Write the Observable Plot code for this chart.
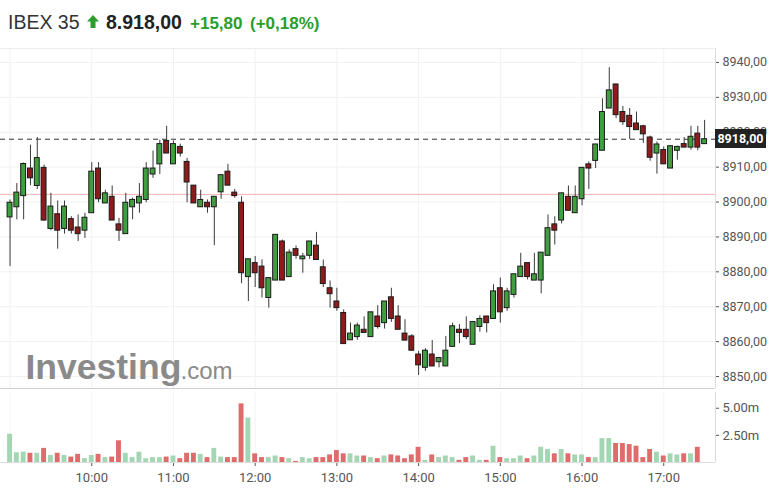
<!DOCTYPE html>
<html><head><meta charset="utf-8">
<script src="https://cdn.jsdelivr.net/npm/d3@7"></script>
<script src="https://cdn.jsdelivr.net/npm/@observablehq/plot@0.6"></script>
<style>
body{margin:0;background:#fff;width:781px;height:504px;overflow:hidden;position:relative;}
#hdr{position:relative;height:45px;font-family:"Liberation Sans",Arial,sans-serif;}
#hdr span{position:absolute;line-height:1;white-space:nowrap;}
#price,#vol{display:block;}
#lastLbl{position:absolute;left:715px;width:51px;height:19px;background:#222;color:#fff;font:bold 12.5px Roboto,sans-serif;line-height:19px;text-align:center;}
</style></head>
<body>
<div id="hdr">
  <span style="left:8px;top:12.5px;font-size:19.5px;color:#333;">IBEX 35</span>
  <svg style="position:absolute;left:87px;top:15px" width="12" height="13"><path d="M6 0 L12 6.5 H8.5 V13 H3.5 V6.5 H0 Z" fill="#2a9d2a"/></svg>
  <span id="hPrice" style="left:106px;top:12.5px;font-size:19.5px;font-weight:bold;color:#222;"></span>
  <span id="hChg" style="left:190px;top:14.6px;font-size:17px;font-weight:bold;color:#2a9d2a;"></span>
  <span id="hPct" style="left:250px;top:14.6px;font-size:17px;font-weight:bold;color:#2a9d2a;"></span>
</div>
<div id="price"></div>
<div id="vol"></div>
<div id="lastLbl"></div>
<script>
const indexName = "IBEX 35";
const lastClose = 8918.00;
const change = 15.80;
const changePct = 0.18;
const prevClose = 8902.2;

const times = [
"09:00","09:05","09:10","09:15","09:20","09:25","09:30","09:35","09:40","09:45","09:50","09:55",
"10:00","10:05","10:10","10:15","10:20","10:25","10:30","10:35","10:40","10:45","10:50","10:55",
"11:00","11:05","11:10","11:15","11:20","11:25","11:30","11:35","11:40","11:45","11:50","11:55",
"12:00","12:05","12:10","12:15","12:20","12:25","12:30","12:35","12:40","12:45","12:50","12:55",
"13:00","13:05","13:10","13:15","13:20","13:25","13:30","13:35","13:40","13:45","13:50","13:55",
"14:00","14:05","14:10","14:15","14:20","14:25","14:30","14:35","14:40","14:45","14:50","14:55",
"15:00","15:05","15:10","15:15","15:20","15:25","15:30","15:35","15:40","15:45","15:50","15:55",
"16:00","16:05","16:10","16:15","16:20","16:25","16:30","16:35","16:40","16:45","16:50","16:55",
"17:00","17:05","17:10","17:15","17:20","17:25","17:30"];

const open = [
8895.6,8898.5,8901.7,8909.6,8904.6,8909.8,8892.3,8896.5,8892.3,8895.1,8892.7,8891.8,
8896.8,8909.6,8899.6,8901.5,8893.6,8890.8,8898.5,8899.6,8900.6,8907.9,8910.8,8917.5,
8910.8,8915.8,8911.5,8904.7,8898.5,8899.8,8898.5,8902.8,8908.7,8902.7,8899.8,8878.5,
8882.5,8881.5,8872.5,8877.5,8888.7,8878.5,8886.5,8883.6,8884.6,8887.5,8881.3,8875.3,
8871.5,8868.2,8860.4,8861.3,8863.4,8861.3,8867.2,8865.3,8872.7,8867.2,8862.3,8861.5,
8856.3,8852.5,8856.3,8854.1,8852.9,8858.5,8863.4,8863.4,8859.1,8864.2,8867.2,8866.5,
8875.3,8869.6,8873.4,8878.5,8882.5,8877.5,8877.5,8884.6,8893.6,8894.7,8901.5,8896.8,
8900.8,8910.8,8911.8,8914.7,8926.8,8933.7,8925.8,8924.7,8922.5,8921.7,8918.5,8913.9,
8914.9,8909.6,8914.7,8916.6,8915.6,8919.6,8916.6];
const high = [
8900.6,8905.3,8911.2,8916.3,8918.5,8910.6,8902.5,8900.3,8900.3,8895.8,8896.3,8896.8,
8911.3,8911.3,8903.4,8904.6,8895.3,8902.5,8901.1,8905.3,8911.3,8914.6,8917.7,8921.7,
8917.5,8916.6,8912.5,8904.7,8903.4,8900.6,8901.5,8907.7,8910.8,8903.6,8901.5,8883.6,
8884.4,8883.4,8878.2,8890.6,8889.1,8886.3,8887.4,8885.3,8888.7,8891.3,8883.4,8877.4,
8875.3,8869.1,8865.3,8865.3,8867.1,8868.4,8870.3,8871.5,8875.3,8870.3,8866.3,8862.0,
8857.2,8858.0,8860.3,8855.3,8861.5,8865.3,8864.9,8867.1,8865.6,8867.4,8867.2,8876.3,
8878.2,8875.3,8879.3,8885.3,8882.5,8885.3,8885.5,8896.3,8895.8,8902.5,8904.6,8904.6,
8909.8,8911.5,8916.5,8929.6,8938.5,8933.7,8927.4,8926.8,8925.8,8922.0,8918.9,8917.2,
8915.8,8916.0,8916.0,8918.5,8921.7,8921.7,8923.4];
const low = [
8881.5,8894.9,8894.9,8904.7,8903.6,8894.5,8891.8,8886.5,8890.8,8890.8,8888.7,8889.6,
8896.8,8899.8,8899.6,8894.7,8888.7,8890.8,8894.9,8896.8,8899.8,8906.8,8907.9,8913.9,
8910.8,8912.9,8899.8,8899.6,8898.5,8896.8,8887.5,8900.8,8904.7,8901.1,8876.6,8871.5,
8875.5,8872.5,8869.6,8877.5,8877.5,8878.5,8883.6,8879.6,8883.6,8883.4,8875.5,8869.6,
8868.7,8859.3,8860.4,8860.4,8862.5,8861.3,8863.6,8863.6,8865.5,8863.4,8860.3,8857.4,
8850.3,8851.5,8852.8,8852.5,8852.9,8858.5,8859.4,8860.6,8859.1,8862.7,8862.5,8866.5,
8865.3,8868.7,8872.5,8878.5,8877.7,8877.5,8873.7,8884.6,8887.7,8893.7,8897.5,8896.8,
8898.9,8903.6,8909.6,8914.7,8926.8,8923.9,8922.0,8917.9,8920.6,8916.8,8911.7,8908.0,
8910.8,8909.6,8912.0,8915.6,8914.9,8914.7,8916.6];
const close = [
8899.8,8902.7,8910.9,8906.8,8912.6,8894.7,8898.7,8891.8,8898.7,8891.8,8890.8,8895.5,
8908.7,8900.8,8902.5,8894.7,8891.8,8899.8,8900.6,8901.5,8909.6,8909.6,8916.6,8913.9,
8916.6,8913.9,8905.6,8899.6,8900.6,8898.5,8901.5,8907.7,8904.7,8901.7,8879.6,8883.6,
8879.6,8875.3,8878.2,8890.6,8877.5,8885.5,8884.6,8884.4,8888.7,8883.4,8876.5,8873.6,
8869.6,8859.3,8862.3,8864.6,8862.5,8868.4,8864.2,8871.5,8866.5,8863.4,8860.3,8857.4,
8853.2,8857.4,8852.9,8855.3,8857.4,8864.4,8862.5,8861.3,8865.6,8866.5,8865.3,8874.4,
8868.4,8874.4,8879.3,8881.5,8878.5,8879.3,8885.5,8892.5,8891.8,8902.5,8897.5,8901.5,
8909.8,8909.6,8916.5,8925.8,8932.0,8924.9,8922.9,8921.5,8920.6,8919.4,8912.7,8916.5,
8910.8,8916.0,8915.8,8915.6,8918.7,8915.6,8918.0];
// volume in millions (no bar for the 17:30 closing auction)
const volume = [
2.6,0.9,0.95,0.85,0.85,1.3,0.65,0.85,0.65,0.5,0.75,0.35,
0.65,0.75,0.45,0.5,2.0,0.85,0.45,0.95,0.35,0.45,0.45,0.5,
0.6,0.35,0.85,0.85,0.75,0.45,1.3,0.5,0.45,0.45,5.4,4.1,
0.8,0.45,0.45,0.6,0.45,0.35,0.1,0.45,0.35,0.45,0.45,0.7,
1.1,0.8,0.8,0.6,0.6,0.45,0.35,0.6,0.7,0.6,0.35,0.7,
1.4,0.2,0.7,0.45,0.6,0.45,0.2,0.45,0.6,0.2,0.2,1.5,
0.45,0.35,0.35,0.6,0.35,0.6,1.4,1.2,0.8,1.2,0.8,0.7,
0.7,0.45,0.45,2.2,2.2,1.75,1.75,1.65,1.5,0.45,1.2,0.95,
0.6,0.8,0.7,0.8,0.8,1.4,null];

const priceTicks = [8850,8860,8870,8880,8890,8900,8910,8920,8930,8940];
const volTicks = [2.5,5];
const timeTickLabels = ["10:00","11:00","12:00","13:00","14:00","15:00","16:00","17:00"];
const gridHours = ["09:00","10:00","11:00","12:00","13:00","14:00","15:00","16:00","17:00"];

const toDate = s => { const [h,m] = s.split(":").map(Number); return new Date(Date.UTC(2024,0,2,h,m)); };
const xDomain = [new Date(Date.UTC(2024,0,2,8,53)), new Date(Date.UTC(2024,0,2,17,38))];
const yDomain = [8846.57, 8944];
const vDomain = [0, 6.45];
const upFill = "#3f9f3f", downFill = "#8e1b1b";
const upVol = "#a4d6b4", downVol = "#e06b6b";
const half = 1.8 * 60000;

const candles = times.map((s,i) => ({t: toDate(s), open: open[i], high: high[i], low: low[i], close: close[i], vol: volume[i]}));
const up = candles.filter(d => d.close >= d.open);
const down = candles.filter(d => d.close < d.open);
const fmtPrice = d => d.toFixed(2).replace(".", ",");
const fmtHM = d3.utcFormat("%H:%M");

document.getElementById("hPrice").textContent = "8.918,00";
document.getElementById("hChg").textContent = "+" + change.toFixed(2).replace(".", ",");
document.getElementById("hPct").textContent = "(+" + changePct.toFixed(2).replace(".", ",") + "%)";

const x1 = d => new Date(+d.t - half), x2 = d => new Date(+d.t + half);

const price = Plot.plot({
  width: 781, height: 344, marginLeft: 0, marginRight: 66, marginTop: 3, marginBottom: 1,
  style: {fontFamily: "Roboto, sans-serif", fontSize: "12.5px", color: "#555", background: "transparent", overflow: "visible"},
  x: {type: "utc", domain: xDomain, axis: null},
  y: {domain: yDomain, axis: "right", ticks: priceTicks, tickFormat: fmtPrice, tickSize: 3, tickPadding: 4, label: null},
  marks: [
    Plot.ruleY(priceTicks, {stroke: "#f1f1f1"}),
    Plot.ruleX(gridHours.map(toDate), {stroke: "#f1f1f1"}),
    Plot.ruleY([yDomain[1]], {stroke: "#eeeeee"}),
    Plot.text(["Investing"], {frameAnchor: "bottom-left", dx: 25, dy: -10, textAnchor: "start", lineAnchor: "bottom", fontSize: 35.5, fontWeight: "bold", fill: "#8a8a8a", fontFamily: "Liberation Sans, Arial, sans-serif"}),
    Plot.text([".com"], {frameAnchor: "bottom-left", dx: 180, dy: -10, textAnchor: "start", lineAnchor: "bottom", fontSize: 24, fill: "#8a8a8a", fontFamily: "Liberation Sans, Arial, sans-serif"}),
    Plot.ruleY([prevClose], {stroke: "#f4b3b3"}),
    Plot.ruleY([lastClose], {stroke: "#333", strokeDasharray: "5,4"}),
    Plot.ruleX(candles, {x: "t", y1: "low", y2: "high", stroke: "#3a3a3a"}),
    Plot.rect(up, {x1, x2, y1: "open", y2: "close", fill: upFill, stroke: "#1a1a1a", strokeWidth: 1}),
    Plot.rect(down, {x1, x2, y1: "open", y2: "close", fill: downFill, stroke: "#1a1a1a", strokeWidth: 1}),
    Plot.ruleY([yDomain[0]], {stroke: "#cfcfcf"}),
    Plot.ruleX([xDomain[1]], {stroke: "#dddddd"})
  ]
});
document.getElementById("price").appendChild(price);

const volData = candles.filter(d => d.vol != null);
const vol = Plot.plot({
  width: 781, height: 115, marginLeft: 0, marginRight: 66, marginTop: 3, marginBottom: 42,
  style: {fontFamily: "Roboto, sans-serif", fontSize: "13px", color: "#555", background: "transparent", overflow: "visible"},
  x: {type: "utc", domain: xDomain, ticks: timeTickLabels.map(toDate), tickFormat: fmtHM, tickSize: 4, tickPadding: 6, label: null},
  y: {domain: vDomain, axis: "right", ticks: volTicks, tickFormat: d => d.toFixed(2) + "m", tickSize: 3, tickPadding: 4, label: null},
  marks: [
    Plot.ruleX(gridHours.map(toDate), {stroke: "#f3f3f3"}),
    Plot.rect(volData, {x1, x2, y1: 0, y2: "vol", fill: d => d.close >= d.open ? upVol : downVol}),
    Plot.ruleY([0], {stroke: "#dddddd"}),
    Plot.ruleX([xDomain[1]], {stroke: "#dddddd"})
  ]
});
document.getElementById("vol").appendChild(vol);

const yLast = price.scale("y").apply(lastClose);
const lbl = document.getElementById("lastLbl");
lbl.textContent = fmtPrice(lastClose);
lbl.style.top = (45 + yLast - 9.5) + "px";
</script>
</body></html>
